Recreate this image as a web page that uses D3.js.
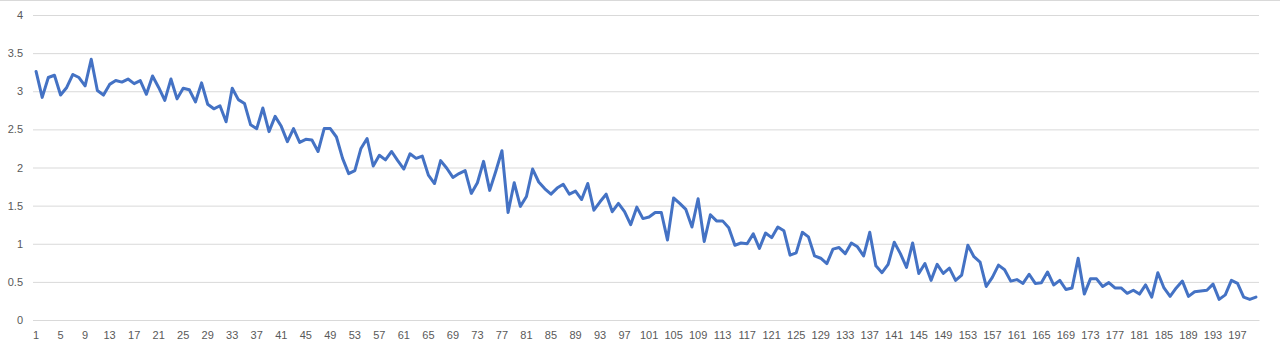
<!DOCTYPE html>
<html>
<head>
<meta charset="utf-8">
<script src="https://cdn.jsdelivr.net/npm/d3@7"></script>
<style>
  body { margin: 0; background: #fff; }
  svg { display: block; }
  .tick text { font-family: "Liberation Sans", Arial, sans-serif; font-size: 11px; fill: #595959; }
</style>
</head>
<body>
<svg width="1280" height="351"></svg>
<script>
var values = [3.26,2.92,3.18,3.21,2.95,3.05,3.22,3.18,3.07,3.42,
    3.01,2.95,3.09,3.14,3.12,3.16,3.10,3.14,2.96,3.20,
    3.05,2.88,3.16,2.90,3.04,3.02,2.86,3.11,2.83,2.77,
    2.81,2.60,3.04,2.89,2.84,2.56,2.51,2.78,2.47,2.67,
    2.54,2.34,2.51,2.33,2.37,2.36,2.21,2.51,2.51,2.40,
    2.12,1.92,1.96,2.25,2.38,2.02,2.16,2.10,2.21,2.09,
    1.98,2.18,2.12,2.15,1.90,1.79,2.09,1.99,1.87,1.92,
    1.96,1.66,1.80,2.08,1.70,1.95,2.22,1.41,1.80,1.49,
    1.62,1.98,1.81,1.72,1.65,1.73,1.78,1.65,1.69,1.58,
    1.79,1.44,1.55,1.65,1.42,1.53,1.42,1.25,1.48,1.33,
    1.35,1.41,1.41,1.05,1.60,1.53,1.45,1.22,1.59,1.03,
    1.38,1.30,1.30,1.21,0.98,1.01,1.00,1.13,0.94,1.14,
    1.08,1.22,1.17,0.85,0.88,1.15,1.09,0.84,0.81,0.74,
    0.93,0.95,0.87,1.01,0.96,0.84,1.15,0.71,0.62,0.73,
    1.02,0.87,0.69,1.01,0.61,0.74,0.52,0.73,0.61,0.68,
    0.52,0.59,0.98,0.83,0.76,0.44,0.56,0.72,0.66,0.51,
    0.53,0.48,0.60,0.48,0.49,0.63,0.46,0.52,0.40,0.42,
    0.81,0.34,0.54,0.54,0.44,0.49,0.42,0.42,0.35,0.39,
    0.34,0.46,0.30,0.62,0.42,0.31,0.42,0.51,0.31,0.37,
    0.38,0.39,0.47,0.27,0.33,0.52,0.48,0.30,0.27,0.30];

var categories = values.map(function(d, i) { return i + 1; });
var xTickLabels = categories.filter(function(d) { return (d - 1) % 4 === 0; });
var yTicks = [0, 0.5, 1, 1.5, 2, 2.5, 3, 3.5, 4];

var svg = d3.select('svg');
var plotLeft = 33, plotRight = 1259, plotTop = 15, plotBottom = 320;

var xScale = d3.scaleBand()
    .domain(categories)
    .range([plotLeft, plotRight])
    .padding(0);

var yScale = d3.scaleLinear()
    .domain([0, 4])
    .range([plotBottom, plotTop]);

// thin frame at the top edge, like the original chart border
svg.append('line')
    .attr('x1', 0).attr('x2', 1280)
    .attr('y1', 0.5).attr('y2', 0.5)
    .attr('stroke', '#d9d9d9');

// gridlines + y labels
var yAxis = svg.append('g')
    .attr('transform', 'translate(' + plotLeft + ',0)')
    .call(d3.axisLeft(yScale)
        .tickValues(yTicks)
        .tickSize(-(plotRight - plotLeft))
        .tickPadding(10)
        .tickFormat(d3.format('~g')));
yAxis.select('.domain').remove();
yAxis.selectAll('.tick line').attr('stroke', '#d9d9d9');

// x axis labels
var xAxis = svg.append('g')
    .attr('transform', 'translate(0,' + plotBottom + ')')
    .call(d3.axisBottom(xScale)
        .tickValues(xTickLabels)
        .tickSize(0)
        .tickPadding(11));
xAxis.select('.domain').attr('stroke', '#d9d9d9');

var line = d3.line()
    .x(function(d, i) { return xScale(categories[i]) + xScale.bandwidth() / 2; })
    .y(function(d) { return yScale(d); });

svg.append('path')
    .datum(values)
    .attr('fill', 'none')
    .attr('stroke', '#4472c4')
    .attr('stroke-width', 3)
    .attr('stroke-linejoin', 'round')
    .attr('stroke-linecap', 'round')
    .attr('d', line);
</script>
</body>
</html>
